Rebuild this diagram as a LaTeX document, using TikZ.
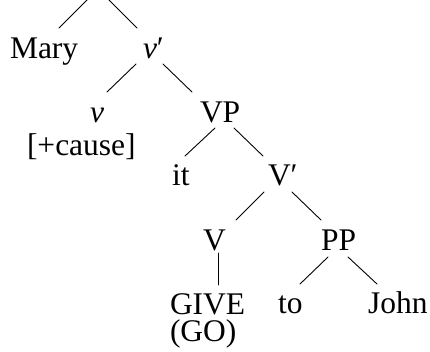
\documentclass[tikz,border=0pt]{standalone}
\usepackage{fontspec}
\setmainfont{Liberation Serif}
\usetikzlibrary{calc}
\begin{document}
\begin{tikzpicture}[x=1pt,y=-1pt,
  lbl/.style={inner sep=0pt, outer sep=0pt, anchor=base west, font=\fontsize{31.5}{27}\selectfont},
  branch/.style={line width=0.9pt, line cap=round}]
\useasboundingbox (0,0) rectangle (430,351);
\clip (0,0) rectangle (430,351);
% labels
\node[lbl] (mary)  at (10,58)  {Mary};
\node[lbl] (vbar)  at (143,58) {\textit{v}′};
\node[lbl] (v)     at (90,122) {\textit{v}};
\node[lbl] (cause) at (27,155) {[+cause]};
\node[lbl] (vp)    at (200,122) {VP};
\node[lbl] (it)    at (172,185) {it};
\node[lbl] (Vbar)  at (268,185) {V′};
\node[lbl] (V)     at (203,250) {V};
\node[lbl] (pp)    at (321,250) {PP};
\node[lbl] (give)  at (170,314) {GIVE};
\node[lbl] (go)    at (170,341) {(GO)};
\node[lbl] (to)    at (278,313) {to};
\node[lbl] (john)  at (368,313) {John};
% root (above the visible area)
\coordinate (rootL) at (88,-1);
\coordinate (rootR) at (108,-1);
% branches
\draw[branch] (rootL) -- ($(mary.base west)+(49,-30)$);
\draw[branch] (rootR) -- ($(vbar.base west)+(-6,-30)$);
\draw[branch] ($(vbar.base west)+(-7,6)$) -- ($(v.base west)+(17,-30)$);
\draw[branch] ($(vbar.base west)+(20,6)$) -- ($(vp.base west)+(-8,-30)$);
\draw[branch] ($(vp.base west)+(15,6)$) -- ($(it.base west)+(13,-29)$);
\draw[branch] ($(vp.base west)+(34,6)$) -- ($(Vbar.base west)+(-5,-29)$);
\draw[branch] ($(Vbar.base west)+(-4,7)$) -- ($(V.base west)+(33,-30)$);
\draw[branch] ($(Vbar.base west)+(24,7)$) -- ($(pp.base west)+(0,-30)$);
\draw[branch] ($(V.base west)+(15,3)$) -- ($(give.base west)+(48,-29)$);
\draw[branch] ($(pp.base west)+(7,7)$) -- ($(to.base west)+(22,-29)$);
\draw[branch] ($(pp.base west)+(27,7)$) -- ($(john.base west)+(9,-29)$);
\end{tikzpicture}
\end{document}
